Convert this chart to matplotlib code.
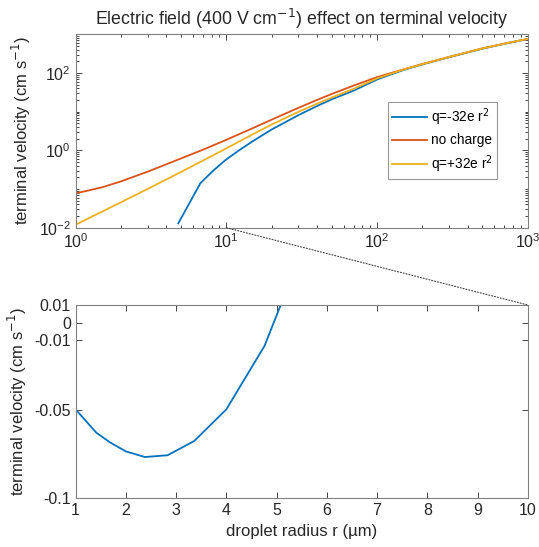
import numpy as np
import matplotlib
matplotlib.use('Agg')
import matplotlib.pyplot as plt
from matplotlib.patches import ConnectionPatch
from matplotlib.ticker import FixedLocator, LogLocator, NullFormatter, LogFormatterMathtext

plt.rcParams['font.family'] = ['Liberation Sans', 'DejaVu Sans']

# top panel (log-log)
r_top = [1, 1.5, 2, 3, 4, 5, 7, 10, 15, 20, 30, 40, 50, 70, 100, 150, 200, 300, 500, 700, 1000]
v_none = [0.077, 0.111, 0.158, 0.280, 0.437, 0.617, 1.04, 1.87, 3.76, 6.22, 12.5, 20.1, 28.6,
          47.3, 78, 124, 171, 259, 432, 575, 759]
v_pos = [0.012, 0.0261, 0.0454, 0.100, 0.177, 0.276, 0.545, 1.125, 2.615, 4.65, 9.84, 16.1, 23.2,
         39.1, 72.2, 122.4, 169, 257.5, 430, 572, 758]
r_neg = [4.8, 6.73, 8.2, 9.8, 12, 15, 20, 30, 40, 50, 70, 100, 150, 200, 300, 500, 700, 1000]
v_neg = [0.013, 0.142, 0.30, 0.55, 0.97, 1.73, 3.46, 8.09, 14.0, 20.8, 35.0, 67.8, 119.6, 166.4,
         254.8, 424.6, 567, 754]

# bottom panel (zoom, linear)
r_zoom = [1, 1.41, 1.68, 2.0, 2.38, 2.83, 3.36, 4.0, 4.76, 5.66]
v_zoom = [-0.0494, -0.0626, -0.0681, -0.0733, -0.0765, -0.0755, -0.0674, -0.0494, -0.0133, 0.0517]

blue = '#0072BD'
orange = '#D95319'
yellow = '#EDB120'
edge = '#808080'
txt = '#262626'

fig = plt.figure(figsize=(5.39, 5.47), dpi=100)
ax1 = fig.add_axes([0.1403, 0.5837, 0.8388, 0.3536])
ax2 = fig.add_axes([0.1403, 0.089, 0.8388, 0.3534])

ax1.plot(r_neg, v_neg, color=blue, lw=1.3, label='q=-32e r$^2$')
ax1.plot(r_top, v_none, color=orange, lw=1.3, label='no charge')
ax1.plot(r_top, v_pos, color=yellow, lw=1.3, label='q=+32e r$^2$')
ax1.set_xscale('log')
ax1.set_yscale('log')
ax1.set_xlim(1, 1000)
ax1.set_ylim(0.01, 1000)
ax1.yaxis.set_major_locator(FixedLocator([1e-2, 1, 1e2]))
ax1.yaxis.set_major_formatter(LogFormatterMathtext())
ax1.yaxis.set_minor_locator(LogLocator(base=10, subs=np.arange(1, 10), numticks=20))
ax1.yaxis.set_minor_formatter(NullFormatter())
ax1.xaxis.set_minor_locator(LogLocator(base=10, subs=np.arange(2, 10), numticks=20))
ax1.xaxis.set_minor_formatter(NullFormatter())
ax1.set_ylabel('terminal velocity (cm s$^{-1}$)', fontsize=12, color=txt)
ax1.set_title('Electric field (400 V cm$^{-1}$) effect on terminal velocity', fontsize=12.8,
              color=txt, pad=7)
leg = ax1.legend(loc='upper right', bbox_to_anchor=(0.932, 0.65), fontsize=9.8, frameon=True,
                 fancybox=False, handlelength=2.6, borderpad=0.3, labelspacing=0.42,
                 handletextpad=0.3, borderaxespad=0)
leg.get_frame().set_edgecolor(edge)
leg.get_frame().set_linewidth(0.8)

ax2.plot(r_zoom, v_zoom, color=blue, lw=1.3)
ax2.set_xlim(1, 10)
ax2.set_ylim(-0.1, 0.01)
ax2.set_xticks(range(1, 11))
ax2.set_yticks([-0.1, -0.05, -0.01, 0, 0.01])
ax2.set_yticklabels(['-0.1', '-0.05', '-0.01', '0', '0.01'])
ax2.set_xlabel('droplet radius r (µm)', fontsize=12, color=txt)
ax2.set_ylabel('terminal velocity (cm s$^{-1}$)', fontsize=12, color=txt)

for ax in (ax1, ax2):
    ax.tick_params(which='both', direction='in', top=True, right=True, labelsize=11.5,
                   colors=txt, width=0.6)
    ax.tick_params(which='major', length=4.5)
    ax.tick_params(which='minor', length=2.5)
    for s in ax.spines.values():
        s.set_color(edge)
        s.set_linewidth(0.8)

con = ConnectionPatch(xyA=(10, 0.01), coordsA=ax1.transData,
                      xyB=(10, 0.01), coordsB=ax2.transData,
                      linestyle=':', color='#404040', lw=0.8)
fig.add_artist(con)

fig.savefig('out.png', dpi=100)
